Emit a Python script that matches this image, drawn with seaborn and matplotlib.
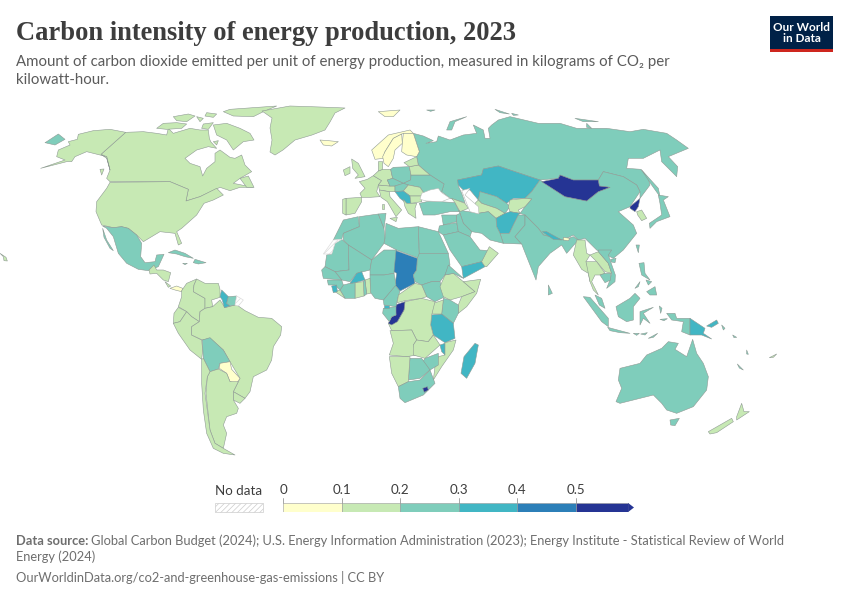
import matplotlib
matplotlib.use("Agg")
import numpy as np
import matplotlib.pyplot as plt
import seaborn as sns

# intensity bins and legend
BIN_EDGES = [0, 0.1, 0.2, 0.3, 0.4, 0.5]
BIN_LABELS = ['0', '0.1', '0.2', '0.3', '0.4', '0.5']
BIN_COLORS = ['#ffffcc', '#c7e9b4', '#7fcdbb', '#41b6c4', '#2c7fb8', '#253494']

TITLE = 'Carbon intensity of energy production, 2023'
SUBTITLE = ['Amount of carbon dioxide emitted per unit of energy production, measured in kilograms of CO₂ per',
            'kilowatt-hour.']

# kg CO2 per kWh, estimated from the colour of each country
INTENSITY = {
    'Canada': 0.15, 'USA': 0.15, 'Mexico': 0.25, 'Greenland': 0.15, 'Iceland': 0.05, 'CentralAm': 0.15,
    'Panama': 0.08, 'Cuba': 0.25, 'Hispaniola': 0.25, 'Colombia': 0.15, 'Venezuela': 0.15, 'Ecuador': 0.15,
    'Peru': 0.15, 'Brazil': 0.15, 'Guyana': 0.35, 'Suriname': 0.25, 'Bolivia': 0.25, 'Paraguay': 0.03,
    'Uruguay': 0.15, 'Argentina': 0.15, 'Chile': 0.15,
    'Norway': 0.03, 'Sweden': 0.04, 'Finland': 0.08, 'UK': 0.15, 'Ireland': 0.18, 'France': 0.12, 'Spain': 0.15,
    'Germany': 0.19, 'Poland': 0.28, 'Czechia': 0.25, 'CentralEu': 0.15, 'Italy': 0.17, 'Ukraine': 0.22,
    'Belarus': 0.18, 'Baltics': 0.15, 'Romania': 0.17, 'Bulgaria': 0.18, 'Serbia': 0.33, 'Greece': 0.18,
    'Hungary': 0.21, 'Denmark': 0.12,
    'Russia': 0.25, 'Kazakhstan': 0.36, 'Mongolia': 0.6, 'China': 0.27, 'Uzbekistan': 0.25, 'Turkmenistan': 0.18,
    'Kyrgyzstan': 0.15, 'Afghanistan': 0.35, 'Pakistan': 0.25, 'Iran': 0.25, 'India': 0.29, 'NorthKorea': 0.6,
    'SouthKorea': 0.19, 'Nepal': 0.35, 'Bhutan': 0.05, 'Turkey': 0.25, 'Caucasus': 0.17, 'Japan': 0.25,
    'Saudi': 0.25, 'Iraq': 0.25, 'Levant': 0.25, 'Yemen': 0.35, 'Oman': 0.19,
    'Myanmar': 0.18, 'Laos': 0.18, 'Thailand': 0.18, 'Vietnam': 0.25, 'Indonesia': 0.27, 'PNG': 0.35,
    'Philippines': 0.25, 'Australia': 0.25, 'NewZealand': 0.12, 'Pacific': 0.25,
    'Morocco': 0.25, 'Algeria': 0.25, 'Tunisia': 0.22, 'Libya': 0.25, 'Egypt': 0.25, 'Mauritania': 0.25,
    'Mali': 0.25, 'Niger': 0.25, 'Chad': 0.45, 'Sudan': 0.25, 'SouthSudan': 0.25, 'Ethiopia': 0.15,
    'Somalia': 0.15, 'Eritrea': 0.25, 'Kenya': 0.22, 'Tanzania': 0.35, 'Uganda': 0.15, 'DRC': 0.15,
    'Congo': 0.6, 'Gabon': 0.25, 'EqGuinea': 0.35, 'Cameroon': 0.25, 'Nigeria': 0.25, 'CAR': 0.15,
    'Benin': 0.15, 'Togo': 0.22, 'Ghana': 0.16, 'IvoryCoast': 0.25, 'Burkina': 0.38, 'Liberia': 0.15,
    'SierraLeone': 0.38, 'Guinea': 0.25, 'Senegal': 0.25, 'Angola': 0.15, 'Zambia': 0.15, 'Malawi': 0.3,
    'Mozambique': 0.15, 'Zimbabwe': 0.25, 'Botswana': 0.25, 'Namibia': 0.15, 'SouthAfrica': 0.28,
    'Lesotho': 0.6, 'Madagascar': 0.35,
}

# no data regions
MISSING = {
    'FrenchGuiana': (90, 270, [(440, 78), (460, 90), (445, 108), (435, 105)]),
    'WesternSahara': (310, 210, [(40, 132), (70, 90), (95, 88), (75, 100), (65, 132)]),
}

NORTH_AMERICA = (0, 100, {
    'Canada': [
        [(377, 97), (430, 95), (470, 100), (500, 105), (505, 85), (520, 100), (570, 85), (600, 90), (625, 90),
         (628, 115), (632, 125), (650, 145), (625, 140), (590, 150), (555, 175), (570, 190), (600, 200), (608, 228),
         (620, 205), (645, 185), (645, 160), (660, 150), (690, 172), (705, 175), (725, 165), (735, 195), (755, 215),
         (720, 235), (700, 250), (725, 255), (760, 262), (720, 262), (690, 272), (660, 262), (600, 290), (558, 303),
         (565, 268), (510, 245), (330, 245), (320, 235), (330, 210), (320, 170), (303, 163)],
        [(640, 75), (680, 70), (720, 85), (750, 100), (762, 120), (730, 125), (700, 150), (680, 120), (650, 105)],
        [(470, 85), (490, 70), (530, 68), (560, 72), (545, 85), (500, 88)],
        [(520, 50), (565, 42), (585, 48), (560, 65), (530, 62)], [(620, 38), (650, 42), (640, 52), (615, 48)],
        [(670, 35), (690, 28), (830, 18), (790, 35), (760, 50), (700, 48)], [(610, 72), (640, 68), (625, 88), (605, 85)],
        [(590, 50), (610, 55), (600, 65)], [(640, 125), (655, 122), (650, 135)],
        [(720, 235), (745, 228), (762, 262), (740, 262)], [(300, 208), (312, 207), (305, 225)],
    ],
    'USA': [
        [(330, 247), (510, 245), (565, 268), (558, 303), (600, 290), (650, 265), (670, 285), (640, 300), (612, 310),
         (590, 345), (545, 385), (530, 395), (545, 430), (535, 435), (525, 400), (480, 395), (430, 425), (410, 405),
         (385, 385), (365, 380), (340, 383), (305, 375), (288, 335), (290, 305), (320, 265)],
        [(377, 97), (330, 88), (280, 92), (235, 103), (232, 118), (205, 125), (210, 135), (175, 150), (170, 170),
         (195, 180), (122, 205), (200, 185), (215, 185), (225, 170), (260, 155), (300, 165), (320, 170), (330, 210),
         (320, 175), (303, 163)],
        [(0, 460), (18, 472), (22, 483), (12, 482), (10, 470)],
    ],
    'Mexico': [
        [(308, 378), (340, 383), (365, 380), (385, 385), (410, 405), (425, 430), (422, 470), (435, 488), (465, 485),
         (470, 465), (492, 463), (475, 500), (445, 512), (415, 508), (380, 490), (355, 460), (340, 410), (320, 385)],
        [(308, 385), (320, 420), (340, 452), (330, 445), (312, 412)],
    ],
    'Russia': [[(140, 125), (175, 102), (195, 118), (165, 135), (135, 128)]],
    'CentralAm': [[(447, 510), (462, 495), (470, 510), (490, 510), (512, 518), (505, 545), (490, 540), (470, 520),
                   (450, 522)], [(495, 545), (512, 558), (505, 562)]],
    'Panama': [[(510, 565), (530, 558), (548, 565), (545, 575), (525, 570)]],
    'Cuba': [[(505, 458), (525, 450), (555, 460), (580, 475), (555, 470), (530, 462)]],
    'Hispaniola': [[(585, 478), (618, 488), (595, 492), (580, 488)], [(548, 490), (562, 490), (555, 494)]],
    'Greenland': [[(786, 33), (870, 18), (960, 21), (1035, 24), (1005, 39), (990, 66), (975, 90), (936, 105),
                   (885, 120), (849, 150), (825, 165), (810, 156), (816, 120), (810, 84), (816, 54)]],
})

SOUTH_AMERICA = (90, 270, {
    'Colombia': [[(275, 62), (290, 40), (320, 27), (312, 45), (310, 65), (345, 85), (345, 115), (330, 125), (328, 155),
                  (305, 140), (290, 125), (265, 110), (275, 80)]],
    'Venezuela': [[(320, 27), (345, 40), (385, 40), (390, 58), (390, 82), (365, 90), (368, 110), (345, 115), (345, 85),
                   (310, 65), (312, 45)]],
    'Ecuador': [[(265, 112), (290, 125), (270, 155), (250, 160), (252, 130)]],
    'Peru': [[(250, 160), (270, 155), (290, 125), (305, 140), (328, 155), (305, 170), (305, 195), (335, 210), (338, 240),
              (335, 268), (300, 240), (265, 190)]],
    'Brazil': [[(368, 110), (390, 90), (405, 113), (435, 105), (445, 108), (465, 122), (505, 142), (545, 145),
                (575, 170), (572, 195), (550, 230), (545, 270), (530, 300), (490, 320), (480, 365), (465, 385),
                (430, 365), (450, 325), (420, 275), (400, 240), (360, 205), (337, 210), (305, 195), (305, 170),
                (328, 155), (330, 125), (345, 115)]],
    'Guyana': [[(395, 60), (415, 80), (410, 100), (420, 108), (403, 113), (397, 90), (390, 80)]],
    'Suriname': [[(415, 80), (440, 78), (435, 105), (420, 108), (410, 100)]],
    'Bolivia': [[(337, 210), (360, 203), (400, 240), (420, 275), (390, 280), (385, 297), (360, 305), (340, 265)]],
    'Paraguay': [[(390, 280), (420, 275), (425, 298), (450, 325), (440, 340), (420, 335), (410, 310), (388, 295)]],
    'Uruguay': [[(430, 365), (465, 385), (450, 400), (430, 390)]],
    'Argentina': [[(360, 305), (385, 297), (410, 310), (420, 335), (445, 335), (430, 365), (430, 390), (445, 415),
                   (440, 430), (410, 440), (400, 465), (410, 490), (400, 535), (375, 520), (360, 480), (348, 370),
                   (352, 320)]],
    'Chile': [[(335, 268), (340, 265), (360, 305), (352, 320), (345, 370), (360, 480), (375, 520), (400, 535),
               (435, 555), (400, 550), (370, 535), (350, 490), (340, 420), (335, 340)]],
})

EUROPE = (310, 110, {
    'Norway': [[(185, 120), (235, 75), (300, 60), (310, 70), (280, 70), (250, 85), (225, 125), (220, 145), (195, 148)],
               [(205, 5), (270, 0), (250, 20), (225, 20)]],
    'Sweden': [[(225, 125), (250, 85), (275, 72), (277, 100), (255, 120), (250, 145), (235, 170), (222, 160),
                (218, 140)]],
    'Finland': [[(280, 70), (310, 70), (328, 125), (320, 140), (290, 135), (275, 125), (277, 100)]],
    'Iceland': [[(30, 90), (55, 92), (85, 95), (65, 108), (40, 105)]],
    'UK': [[(125, 147), (145, 160), (165, 200), (135, 205), (145, 195), (128, 175)]],
    'Ireland': [[(100, 180), (120, 170), (120, 190), (105, 197)]],
    'France': [[(148, 215), (172, 208), (190, 197), (215, 212), (205, 225), (200, 245), (210, 260), (180, 262),
                (155, 262), (150, 250), (165, 235)]],
    'Spain': [[(108, 265), (155, 262), (155, 275), (135, 310), (108, 315)]],
    'CentralEu': [[(205, 225), (240, 228), (255, 228), (255, 245), (238, 245), (208, 240)],
                  [(98, 268), (108, 265), (108, 315), (98, 310)]],
    'Germany': [[(190, 197), (205, 183), (218, 178), (242, 178), (248, 205), (232, 210), (240, 228), (205, 225),
                 (215, 212)]],
    'Denmark': [[(205, 155), (218, 155), (218, 178), (205, 183)]],
    'Poland': [[(242, 178), (250, 172), (298, 170), (303, 195), (302, 210), (280, 220), (248, 205)]],
    'Czechia': [[(232, 210), (248, 205), (280, 220), (255, 228), (240, 228)]],
    'Italy': [[(208, 240), (238, 245), (240, 260), (275, 300), (258, 320), (232, 275), (213, 262)],
              [(215, 283), (222, 283), (222, 298), (215, 298)], [(240, 325), (262, 322), (258, 335)]],
    'Ukraine': [[(303, 195), (360, 195), (402, 222), (395, 245), (370, 250), (342, 250), (330, 232), (295, 225),
                 (280, 220), (302, 210)]],
    'Belarus': [[(298, 170), (325, 165), (348, 185), (360, 195), (303, 195)]],
    'Baltics': [[(282, 158), (320, 140), (325, 165), (298, 170)]],
    'Hungary': [[(255, 228), (280, 220), (295, 225), (280, 243), (255, 245)]],
    'Romania': [[(295, 225), (330, 232), (342, 250), (335, 258), (300, 258), (280, 243)]],
    'Serbia': [[(255, 245), (280, 243), (300, 258), (303, 280), (290, 280), (270, 265)]],
    'Bulgaria': [[(300, 258), (335, 258), (335, 275), (303, 280)]],
    'Greece': [[(280, 268), (290, 280), (303, 280), (320, 280), (315, 295), (318, 325), (295, 310), (285, 290)]],
})

ASIA = (410, 100, {
    'Russia': [[(10, 100), (28, 155), (20, 170), (25, 195), (48, 215), (60, 225), (102, 252), (95, 275), (120, 295),
                (165, 308), (155, 280), (145, 258), (143, 240), (215, 225), (220, 207), (265, 198), (300, 210),
                (345, 225), (390, 240), (445, 235), (450, 225), (490, 240), (565, 240), (580, 215), (640, 230),
                (680, 255), (690, 275), (690, 295), (720, 255), (715, 235), (693, 208), (650, 205), (655, 175),
                (700, 175), (750, 150), (755, 185), (800, 230), (803, 200), (775, 170), (835, 145), (800, 120),
                (770, 100), (700, 88), (660, 95), (590, 85), (500, 85), (450, 70), (385, 70), (300, 50), (265, 60),
                (245, 75), (235, 85), (240, 115), (225, 115), (220, 90), (190, 75), (200, 100), (160, 105), (120, 120),
                (85, 108), (80, 125), (48, 130), (70, 122), (40, 108)],
               [(110, 90), (120, 65), (170, 50), (135, 65), (125, 90)], [(50, 30), (75, 30), (62, 34)],
               [(255, 28), (298, 42), (270, 38)], [(305, 40), (325, 45), (310, 46)],
               [(495, 55), (565, 65), (520, 65)], [(530, 70), (545, 85), (530, 82)],
               [(695, 210), (745, 265), (750, 290), (725, 255)]],
    'Kazakhstan': [[(143, 240), (215, 225), (220, 207), (265, 198), (300, 210), (345, 225), (390, 240), (365, 275),
                    (345, 295), (310, 295), (290, 310), (260, 290), (210, 275), (205, 300), (180, 270), (160, 270),
                    (145, 255)]],
    'China': [[(390, 240), (465, 290), (530, 303), (565, 275), (600, 262), (568, 258), (565, 240), (580, 215),
               (640, 230), (680, 255), (690, 275), (660, 320), (625, 335), (670, 375), (680, 400), (640, 450),
               (610, 475), (560, 450), (525, 415), (505, 420), (490, 405), (460, 420), (400, 405), (385, 385),
               (345, 345), (330, 340), (345, 320), (365, 297), (345, 295), (365, 275)]],
    'Mongolia': [[(395, 245), (445, 235), (450, 225), (490, 240), (565, 240), (568, 258), (600, 262), (565, 275),
                  (530, 303), (465, 290)]],
    'Uzbekistan': [[(205, 300), (210, 275), (260, 290), (290, 310), (300, 320), (285, 340), (260, 325), (215, 310)]],
    'Turkmenistan': [[(205, 300), (215, 310), (260, 325), (285, 340), (258, 355), (235, 335), (205, 340), (195, 310)]],
    'Kyrgyzstan': [[(300, 300), (345, 295), (365, 297), (345, 320), (325, 330), (330, 340), (300, 335), (295, 320)]],
    'Afghanistan': [[(258, 355), (285, 340), (300, 335), (330, 340), (325, 345), (310, 375), (298, 400), (270, 400),
                     (260, 380)]],
    'Pakistan': [[(270, 400), (298, 400), (310, 375), (325, 345), (345, 345), (345, 375), (315, 410), (335, 432),
                  (280, 430)]],
    'Iran': [[(145, 330), (175, 335), (205, 340), (235, 335), (258, 355), (260, 380), (270, 400), (280, 430), (240, 420),
              (215, 400), (185, 395), (160, 370), (150, 340)]],
    'India': [[(345, 345), (385, 385), (400, 405), (460, 420), (490, 410), (505, 420), (470, 460), (455, 435),
               (420, 460), (385, 500), (378, 540), (370, 520), (350, 470), (335, 432), (315, 410), (345, 375)]],
    'NorthKorea': [[(660, 320), (690, 295), (685, 320), (675, 335), (660, 325)]],
    'SouthKorea': [[(680, 335), (695, 330), (710, 355), (695, 362), (683, 345)]],
    'Nepal': [[(397, 395), (410, 395), (455, 420), (430, 418)]],
    'Bhutan': [[(460, 412), (480, 415), (475, 422), (460, 420)]],
    'Japan': [[(745, 285), (775, 290), (760, 300), (780, 350), (740, 365), (720, 385), (718, 370), (755, 345),
               (750, 310)]],
    'Turkey': [[(28, 310), (60, 303), (135, 308), (148, 335), (120, 335), (75, 345), (40, 345)]],
    'Caucasus': [[(125, 295), (165, 310), (175, 325), (150, 335), (135, 308)]],
    'Levant': [[(95, 345), (140, 345), (140, 365), (100, 375)],
               [(88, 378), (100, 375), (140, 368), (145, 395), (100, 405), (85, 395)]],
    'Iraq': [[(140, 345), (150, 340), (160, 370), (185, 395), (180, 410), (145, 395), (140, 365)]],
})

AFRICA = (310, 210, {
    'Morocco': [[(100, 30), (145, 20), (148, 50), (100, 70), (95, 88), (70, 90)]],
    'Algeria': [[(148, 20), (205, 12), (222, 55), (225, 85), (222, 100), (185, 150), (115, 105), (100, 90), (100, 70),
                 (148, 50)]],
    'Tunisia': [[(205, 12), (228, 10), (222, 55)]],
    'Libya': [[(228, 40), (265, 55), (325, 50), (328, 145), (260, 120), (222, 100), (225, 85)]],
    'Egypt': [[(325, 50), (385, 65), (415, 130), (328, 130)]],
    'Mauritania': [[(65, 132), (75, 100), (95, 88), (115, 105), (117, 180), (75, 185), (45, 170), (50, 135)]],
    'Mali': [[(115, 105), (185, 150), (180, 180), (140, 190), (120, 215), (95, 210), (75, 185), (117, 180)]],
    'Niger': [[(185, 150), (222, 120), (260, 120), (262, 130), (252, 190), (222, 195), (180, 195), (180, 180)]],
    'Chad': [[(258, 122), (322, 145), (320, 180), (310, 195), (315, 220), (270, 243), (255, 225), (260, 190),
              (252, 185)]],
    'Sudan': [[(328, 130), (415, 130), (420, 165), (405, 195), (390, 215), (365, 215), (335, 225), (315, 215),
               (310, 195), (320, 180), (322, 145)]],
    'SouthSudan': [[(335, 225), (365, 215), (390, 215), (405, 260), (375, 275), (350, 260)]],
    'Ethiopia': [[(405, 195), (430, 190), (460, 215), (495, 245), (455, 260), (420, 270), (400, 260), (390, 230)]],
    'Somalia': [[(460, 215), (512, 208), (500, 250), (470, 290), (445, 310), (445, 285), (455, 260), (495, 245)]],
    'Eritrea': [[(415, 165), (460, 205), (430, 190), (405, 195)]],
    'Kenya': [[(400, 265), (420, 270), (445, 285), (445, 310), (430, 340), (395, 312)]],
    'Tanzania': [[(365, 315), (395, 312), (430, 340), (435, 385), (405, 398), (370, 375), (362, 345)]],
    'Uganda': [[(370, 280), (400, 270), (395, 312), (365, 312)]],
    'DRC': [[(285, 275), (335, 265), (375, 275), (365, 315), (362, 345), (370, 375), (355, 395), (320, 390), (305, 360),
             (245, 362), (235, 340), (262, 335), (282, 300)]],
    'Congo': [[(255, 285), (285, 275), (282, 300), (262, 335), (245, 345), (235, 340), (245, 320), (258, 315)]],
    'Gabon': [[(220, 295), (258, 290), (258, 315), (245, 320), (238, 335), (218, 310)]],
    'EqGuinea': [[(222, 285), (238, 285), (238, 295), (222, 295)]],
    'Cameroon': [[(220, 270), (255, 225), (270, 243), (262, 270), (258, 290), (222, 285)]],
    'Nigeria': [[(180, 195), (222, 195), (252, 190), (258, 225), (220, 270), (195, 265), (180, 245)]],
    'CAR': [[(265, 255), (315, 220), (335, 225), (350, 260), (335, 265), (285, 272), (262, 278)]],
    'Benin': [[(165, 210), (180, 205), (182, 250), (170, 252)]],
    'Togo': [[(160, 215), (165, 210), (170, 252), (162, 258)]],
    'Ghana': [[(135, 218), (160, 215), (162, 258), (135, 265)]],
    'IvoryCoast': [[(100, 225), (120, 220), (135, 218), (135, 265), (105, 265), (90, 240)]],
    'Burkina': [[(120, 220), (140, 190), (155, 185), (165, 210), (135, 218)]],
    'Liberia': [[(75, 245), (90, 240), (105, 265)]],
    'Guinea': [[(52, 210), (95, 210), (100, 225), (90, 240), (75, 225), (55, 225)]],
    'SierraLeone': [[(65, 228), (80, 225), (82, 245), (70, 248)]],
    'Senegal': [[(35, 180), (45, 170), (75, 185), (95, 210), (40, 205)]],
    'Angola': [[(240, 362), (305, 360), (320, 390), (310, 405), (320, 435), (290, 440), (238, 435), (250, 400)]],
    'Zambia': [[(310, 405), (320, 390), (355, 395), (370, 375), (390, 405), (345, 445), (310, 435)]],
    'Malawi': [[(390, 405), (405, 400), (405, 435), (395, 425)]],
    'Mozambique': [[(405, 398), (438, 390), (430, 420), (395, 470), (370, 510), (375, 470), (385, 440), (405, 435)]],
    'Zimbabwe': [[(345, 445), (385, 430), (385, 465), (360, 480), (335, 460)]],
    'Botswana': [[(300, 445), (335, 445), (360, 480), (330, 505), (295, 510)]],
    'Namibia': [[(238, 440), (300, 440), (295, 515), (265, 530), (245, 490)]],
    'SouthAfrica': [[(265, 530), (295, 515), (330, 510), (360, 480), (375, 520), (340, 555), (285, 578), (270, 565)]],
    'Lesotho': [[(338, 535), (352, 530), (355, 540), (343, 547)]],
    'Madagascar': [[(495, 400), (505, 405), (495, 460), (470, 505), (453, 490), (462, 440)]],
    'Saudi': [[(400, 75), (445, 65), (480, 80), (510, 120), (538, 122), (515, 155), (455, 170), (420, 120)]],
    'Yemen': [[(455, 170), (515, 155), (525, 170), (460, 205)]],
    'Oman': [[(515, 155), (538, 110), (565, 130), (530, 170), (525, 170)]],
})

OCEANIA = (540, 240, {
    'Myanmar': [[(110, 0), (135, 0), (140, 40), (150, 45), (138, 65), (150, 100), (150, 125), (145, 100), (125, 88),
                 (100, 45)]],
    'Laos': [[(150, 45), (175, 35), (205, 70), (215, 100), (195, 95), (170, 65)]],
    'Thailand': [[(138, 65), (170, 65), (195, 100), (180, 105), (165, 105), (155, 125), (175, 165), (160, 150),
                  (150, 125)]],
    'Vietnam': [[(175, 30), (215, 30), (205, 45), (226, 105), (225, 125), (200, 145), (210, 120), (215, 100), (205, 70),
                 (175, 35)], [(180, 105), (195, 100), (212, 100), (212, 120), (195, 128)]],
    'Indonesia': [[(165, 165), (185, 175), (195, 205), (178, 195)],
                  [(130, 170), (150, 172), (205, 235), (205, 260), (185, 245)],
                  [(203, 262), (270, 280), (240, 278), (210, 272)],
                  [(228, 200), (270, 175), (285, 160), (300, 175), (280, 200), (280, 240), (260, 245), (235, 230)],
                  [(300, 215), (340, 202), (310, 220), (330, 250), (310, 235), (300, 255)],
                  [(380, 220), (405, 220), (410, 235), (450, 235), (450, 285), (425, 275), (430, 245), (395, 240)],
                  [(280, 280), (298, 280), (290, 286)], [(302, 282), (322, 278), (315, 285)],
                  [(325, 295), (353, 280), (340, 292)], [(358, 198), (366, 205), (362, 220)],
                  [(360, 238), (382, 236), (372, 242)]],
    'PNG': [[(450, 235), (495, 265), (490, 280), (515, 297), (485, 285), (450, 285)],
            [(500, 258), (530, 240), (535, 250), (515, 262)]],
    'Philippines': [[(297, 70), (312, 68), (315, 100), (330, 120), (305, 105)],
                    [(320, 155), (345, 140), (350, 165), (330, 165)],
                    [(285, 145), (300, 125), (295, 140)], [(318, 120), (335, 125), (325, 135)]],
    'China': [[(212, 58), (228, 55), (225, 68), (214, 66)]],
    'Japan': [[(288, 15), (298, 15), (295, 38)]],
    'India': [[(25, 135), (37, 160), (25, 165)]],
    'Australia': [[(240, 385), (300, 370), (320, 345), (365, 325), (385, 305), (415, 310), (405, 328), (440, 350),
                   (458, 298), (470, 340), (490, 370), (505, 410), (500, 450), (460, 500), (410, 520), (380, 510),
                   (365, 490), (340, 465), (300, 475), (240, 490), (228, 485), (245, 445), (235, 420)],
                  [(390, 540), (418, 535), (405, 557), (392, 555)]],
    'NewZealand': [[(605, 490), (612, 515), (628, 515), (590, 540), (590, 530)],
                   [(505, 575), (575, 535), (580, 545), (530, 578), (510, 582)],
                   [(688, 353), (710, 342), (700, 352)]],
    'Pacific': [[(592, 372), (610, 390), (598, 384)], [(545, 255), (555, 265), (550, 270)],
                [(578, 285), (590, 292), (582, 293)], [(620, 330), (625, 343), (620, 342)]],
})

ALL_GROUPS = [NORTH_AMERICA, SOUTH_AMERICA, ASIA, EUROPE, AFRICA, OCEANIA]

# seas that sit on top of the land polygons (same crop as ASIA)
CASPIAN = [(155, 272), (180, 265), (165, 285), (205, 320), (207, 342), (180, 335), (170, 310)]
BLACK_SEA = [(35, 280), (60, 270), (85, 265), (95, 278), (120, 295), (95, 305), (50, 303), (30, 298)]


def to_px(points, crop_x, crop_y):
    pts = np.array(points, dtype=float)
    return pts[:, 0] / 3 + crop_x, pts[:, 1] / 3 + crop_y


def bin_color(value):
    return BIN_COLORS[np.digitize(value, BIN_EDGES[1:])]


sns.set_theme(style='white')
plt.rcParams['font.family'] = ['Lato', 'DejaVu Sans']
plt.rcParams['hatch.linewidth'] = 0.5
palette = sns.color_palette(BIN_COLORS)

fig = plt.figure(figsize=(8.5, 6), dpi=100)
ax = fig.add_axes([0, 0, 1, 1])
ax.set_xlim(0, 850)
ax.set_ylim(600, 0)
ax.axis('off')

for crop_x, crop_y, shapes in ALL_GROUPS:
    for name, polygons in shapes.items():
        for poly in polygons:
            xs, ys = to_px(poly, crop_x, crop_y)
            ax.fill(xs, ys, facecolor=bin_color(INTENSITY[name]), edgecolor='#8f9a94', linewidth=0.4, joinstyle='round')

for sea in [CASPIAN, BLACK_SEA]:
    xs, ys = to_px(sea, ASIA[0], ASIA[1])
    ax.fill(xs, ys, facecolor='white', edgecolor='#b5bdb8', linewidth=0.4)

for name, (crop_x, crop_y, poly) in MISSING.items():
    xs, ys = to_px(poly, crop_x, crop_y)
    ax.fill(xs, ys, facecolor='white', edgecolor='#dddddd', linewidth=0.5, hatch='//////')

# titles
ax.text(16, 33, TITLE, fontsize=19.1, family='Liberation Serif', fontweight='bold', color='#3d3d3d', va='center')
for y, line in zip([62, 80], SUBTITLE):
    ax.text(16, y, line, fontsize=10.78, color='#5b5b5b', va='center')

# logo
ax.fill([770, 833, 833, 770], [16, 16, 49, 49], color='#002147', linewidth=0)
ax.fill([770, 833, 833, 770], [49, 49, 52, 52], color='#ce261e', linewidth=0)
ax.text(801.5, 33, 'Our World\nin Data', color='white', fontsize=8.5, fontweight='bold', ha='center', va='center',
        linespacing=1.05)

# legend
leg = fig.add_axes([283 / 850, 1 - 512 / 600, 351 / 850, 9 / 600])
leg.set_xlim(0, 0.6)
leg.set_ylim(0, 1)
leg.axis('off')
widths = np.diff(BIN_EDGES + [0.59])
leg.barh([0.5] * 6, widths, left=BIN_EDGES, height=1, color=palette, edgecolor='#9a9a9a', linewidth=0.4)
leg.fill([0.59, 0.6, 0.59], [0, 0.5, 1], color=BIN_COLORS[-1], linewidth=0, clip_on=False)
for edge, label in zip(BIN_EDGES, BIN_LABELS):
    leg.plot([edge, edge], [1, 1.6], color='#999999', linewidth=0.6, clip_on=False)
    leg.text(edge, 2.4, label, fontsize=9.6, color='#3d3d3d', ha='center', va='center')

ax.fill([215, 263, 263, 215], [503, 503, 512, 512], facecolor='white', edgecolor='#cccccc', linewidth=0.5,
        hatch='//////')
ax.text(239, 491, 'No data', fontsize=9.6, color='#3d3d3d', ha='center', va='center')

# footer
ax.text(16, 541, 'Data source:', fontsize=9.3, fontweight='bold', color='#6e6e6e', va='center')
ax.text(91, 541, 'Global Carbon Budget (2024); U.S. Energy Information Administration (2023); Energy Institute - '
        'Statistical Review of World', fontsize=9.3, color='#6e6e6e', va='center')
ax.text(16, 557, 'Energy (2024)', fontsize=9.3, color='#6e6e6e', va='center')
ax.text(16, 577, 'OurWorldinData.org/co2-and-greenhouse-gas-emissions | CC BY', fontsize=9.3, color='#6e6e6e',
        va='center')

fig.savefig('out.png', dpi=100, facecolor='white')
